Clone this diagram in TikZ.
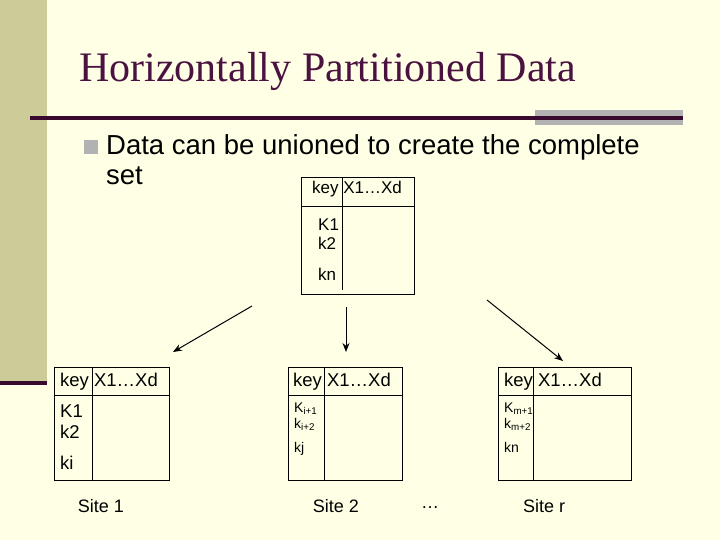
\documentclass[tikz,border=0pt]{standalone}
\usepackage{fontspec}
\setmainfont{Liberation Sans}
\newfontfamily\titlefont{Liberation Serif}
\definecolor{bg}{HTML}{FFFFE6}
\definecolor{strip}{HTML}{CCCC99}
\definecolor{maroon}{HTML}{3A0A2E}
\definecolor{titlec}{HTML}{4A1240}
\tikzset{tbl/.style={draw=black,line width=0.8pt},
 cell/.style={font=\fontsize{18.5}{20}\selectfont,inner sep=0pt,anchor=base west},
 tcell/.style={font=\fontsize{17}{19}\selectfont,inner sep=0pt,anchor=base west},
 scell/.style={font=\fontsize{14}{15}\selectfont,inner sep=0pt,anchor=base west},
 arr/.style={-{Stealth[length=9pt,width=7pt]},line width=1pt}}
\usetikzlibrary{arrows.meta}
\begin{document}
\begin{tikzpicture}[x=1pt,y=-1pt]
\fill[bg] (0,0) rectangle (720,540);
\useasboundingbox (0,0) rectangle (720,540);
\fill[strip] (0,0) rectangle (47,383);
\fill[maroon] (0,381) rectangle (47,385);
\fill[gray!60] (535,110) rectangle (683,125);
\fill[maroon] (30,116) rectangle (683,120);
\node[anchor=base west,inner sep=0pt,text=titlec,font=\titlefont\fontsize{42}{44}\selectfont] (title) at (79,82) {Horizontally Partitioned Data};
\fill[gray!60] (84,140) rectangle (98,154);
\node[anchor=base west,inner sep=0pt,font=\fontsize{27.5}{30}\selectfont] (b1) at (106,155) {Data can be unioned to create the complete};
\node[anchor=base west,inner sep=0pt,font=\fontsize{27.5}{30}\selectfont] (b2) at (106,185) {set};
% top table
\draw[tbl] (301,177) rectangle (414,294);
\draw[tbl] (301,206) -- (414,206);
\draw[tbl] (342,177) -- (342,290);
\node[tcell] (t0) at (312,194) {key X1…Xd};
\node[tcell] (t1) at (318,230) {K1};
\node[tcell] (t2) at (318,249) {k2};
\node[tcell] (t3) at (318,280) {kn};
% left
\draw[tbl] (54,367) rectangle (169,480);
\draw[tbl] (54,395) -- (169,395);
\draw[tbl] (92,367) -- (92,480);
\node[cell] (l0) at (60,386) {key X1…Xd};
\node[cell] (l1) at (60,417) {K1};
\node[cell] (l2) at (60,438) {k2};
\node[cell] (l3) at (60,469) {ki};
% middle
\draw[tbl] (288,367) rectangle (402,480);
\draw[tbl] (288,395) -- (402,395);
\draw[tbl] (324,367) -- (324,480);
\node[cell] (m0) at (293,386) {key X1…Xd};
\node[scell] (m1) at (294,412) {K\textsubscript{i+1}};
\node[scell] (m2) at (294,428) {k\textsubscript{i+2}};
\node[scell] (m3) at (294,452) {kj};
% right
\draw[tbl] (498,367) rectangle (631,480);
\draw[tbl] (498,395) -- (631,395);
\draw[tbl] (533,367) -- (533,480);
\node[cell] (r0) at (504,386) {key X1…Xd};
\node[scell] (r1) at (504,412) {K\textsubscript{m+1}};
\node[scell] (r2) at (504,428) {k\textsubscript{m+2}};
\node[scell] (r3) at (504,452) {kn};
% arrows
\coordinate (a1) at (252,306); \coordinate (a1e) at (173,352);
\coordinate (a2) at (346,307); \coordinate (a2e) at (346,352);
\coordinate (a3) at (487,300); \coordinate (a3e) at (563,361);
\draw[arr] (a1) -- (a1e);
\draw[arr] (a2) -- (a2e);
\draw[arr] (a3) -- (a3e);
\node[font=\fontsize{18}{20}\selectfont] (s1) at (101,506) {Site 1};
\node[font=\fontsize{18}{20}\selectfont] (s2) at (336,506) {Site 2};
\node[font=\fontsize{18}{20}\selectfont] (s3) at (430,508) {…};
\node[font=\fontsize{18}{20}\selectfont] (s4) at (544,506) {Site r};
\end{tikzpicture}
\end{document}
